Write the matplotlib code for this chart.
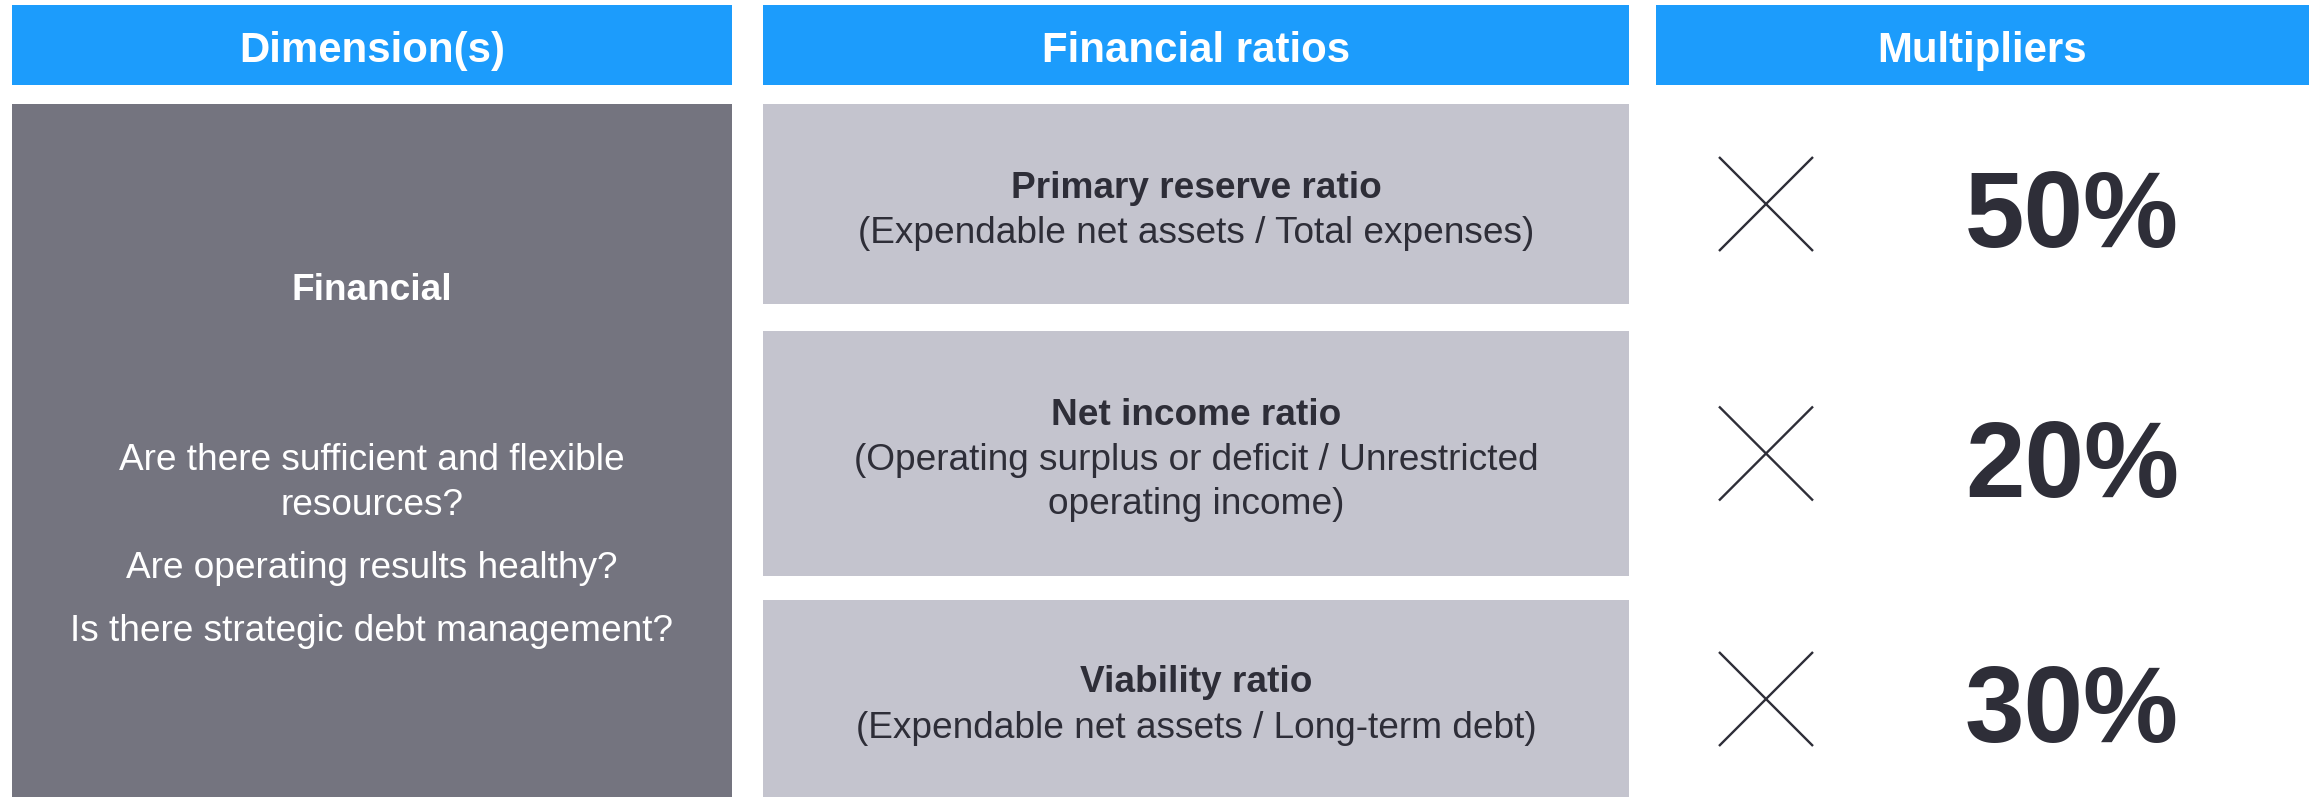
import matplotlib
matplotlib.use("Agg")
import matplotlib.pyplot as plt
from matplotlib.patches import Rectangle

# ---- data ----
headers = ["Dimension(s)", "Financial ratios", "Multipliers"]
dimension_name = "Financial"
dimension_questions = [
    ["Are there sufficient and flexible", "resources?"],
    ["Are operating results healthy?"],
    ["Is there strategic debt management?"],
]
ratio_names = ["Primary reserve ratio", "Net income ratio", "Viability ratio"]
ratio_formulas = [
    ["(Expendable net assets / Total expenses)"],
    ["(Operating surplus or deficit / Unrestricted", "operating income)"],
    ["(Expendable net assets / Long-term debt)"],
]
multipliers = [50, 20, 30]

# ---- styles ----
BLUE = "#1C9CFC"
DARK = "#74747F"
LIGHT = "#C4C4CE"
TEXT = "#2E2E38"
FONT = "Liberation Sans"
W, H = 2315, 797
DPI = 100
def pt(px):
    return px * 72.0 / DPI

fig = plt.figure(figsize=(W / DPI, H / DPI), dpi=DPI)
ax = fig.add_axes([0, 0, 1, 1])
ax.set_xlim(0, W)
ax.set_ylim(H, 0)
ax.axis("off")

cols = [(12, 732), (763, 1629), (1656, 2309)]
header_y = (5, 85)
rows = [(104, 304), (331, 576), (600, 830)]
row_centers = [204, 453.5, 699]

# headers
for (x0, x1), h in zip(cols, headers):
    ax.add_patch(Rectangle((x0, header_y[0]), x1 - x0, header_y[1] - header_y[0],
                           facecolor=BLUE, edgecolor="none"))
    ax.text((x0 + x1) / 2, 62, h, ha="center", va="baseline", color="white",
            fontsize=pt(42), fontweight="bold", family=FONT)

# dimension box
x0, x1 = cols[0]
ax.add_patch(Rectangle((x0, 104), x1 - x0, 730, facecolor=DARK, edgecolor="none"))
cx = (x0 + x1) / 2
ax.text(cx, 300, dimension_name, ha="center", va="baseline", color="white",
        fontsize=pt(37), fontweight="bold", family=FONT)
y = 470
for para in dimension_questions:
    for line in para:
        ax.text(cx, y, line, ha="center", va="baseline", color="white",
                fontsize=pt(37), family=FONT)
        y += 45
    y += 18

# ratio boxes
x0, x1 = cols[1]
cx = (x0 + x1) / 2
LS = 45
for (y0, y1), yc, name, formula in zip(rows, row_centers, ratio_names, ratio_formulas):
    ax.add_patch(Rectangle((x0, y0), x1 - x0, y1 - y0, facecolor=LIGHT, edgecolor="none"))
    lines = [(name, "bold")] + [(f, "normal") for f in formula]
    n = len(lines)
    b = yc - (LS * (n - 1) - 32) / 2
    for i, (txt, wt) in enumerate(lines):
        ax.text(cx, b + i * LS, txt, ha="center", va="baseline", color=TEXT,
                fontsize=pt(37), fontweight=wt, family=FONT)

# multipliers
xc_cross = 1766
hs = 47
for yc, m in zip(row_centers, multipliers):
    ax.plot([xc_cross - hs, xc_cross + hs], [yc - hs, yc + hs], color=TEXT, lw=1.7,
            solid_capstyle="butt")
    ax.plot([xc_cross - hs, xc_cross + hs], [yc + hs, yc - hs], color=TEXT, lw=1.7,
            solid_capstyle="butt")
    ax.text(2072, yc + 43, f"{m}%", ha="center", va="baseline", color=TEXT,
            fontsize=pt(107), fontweight="bold", family=FONT)

fig.savefig("out.png", dpi=DPI, facecolor="white")
